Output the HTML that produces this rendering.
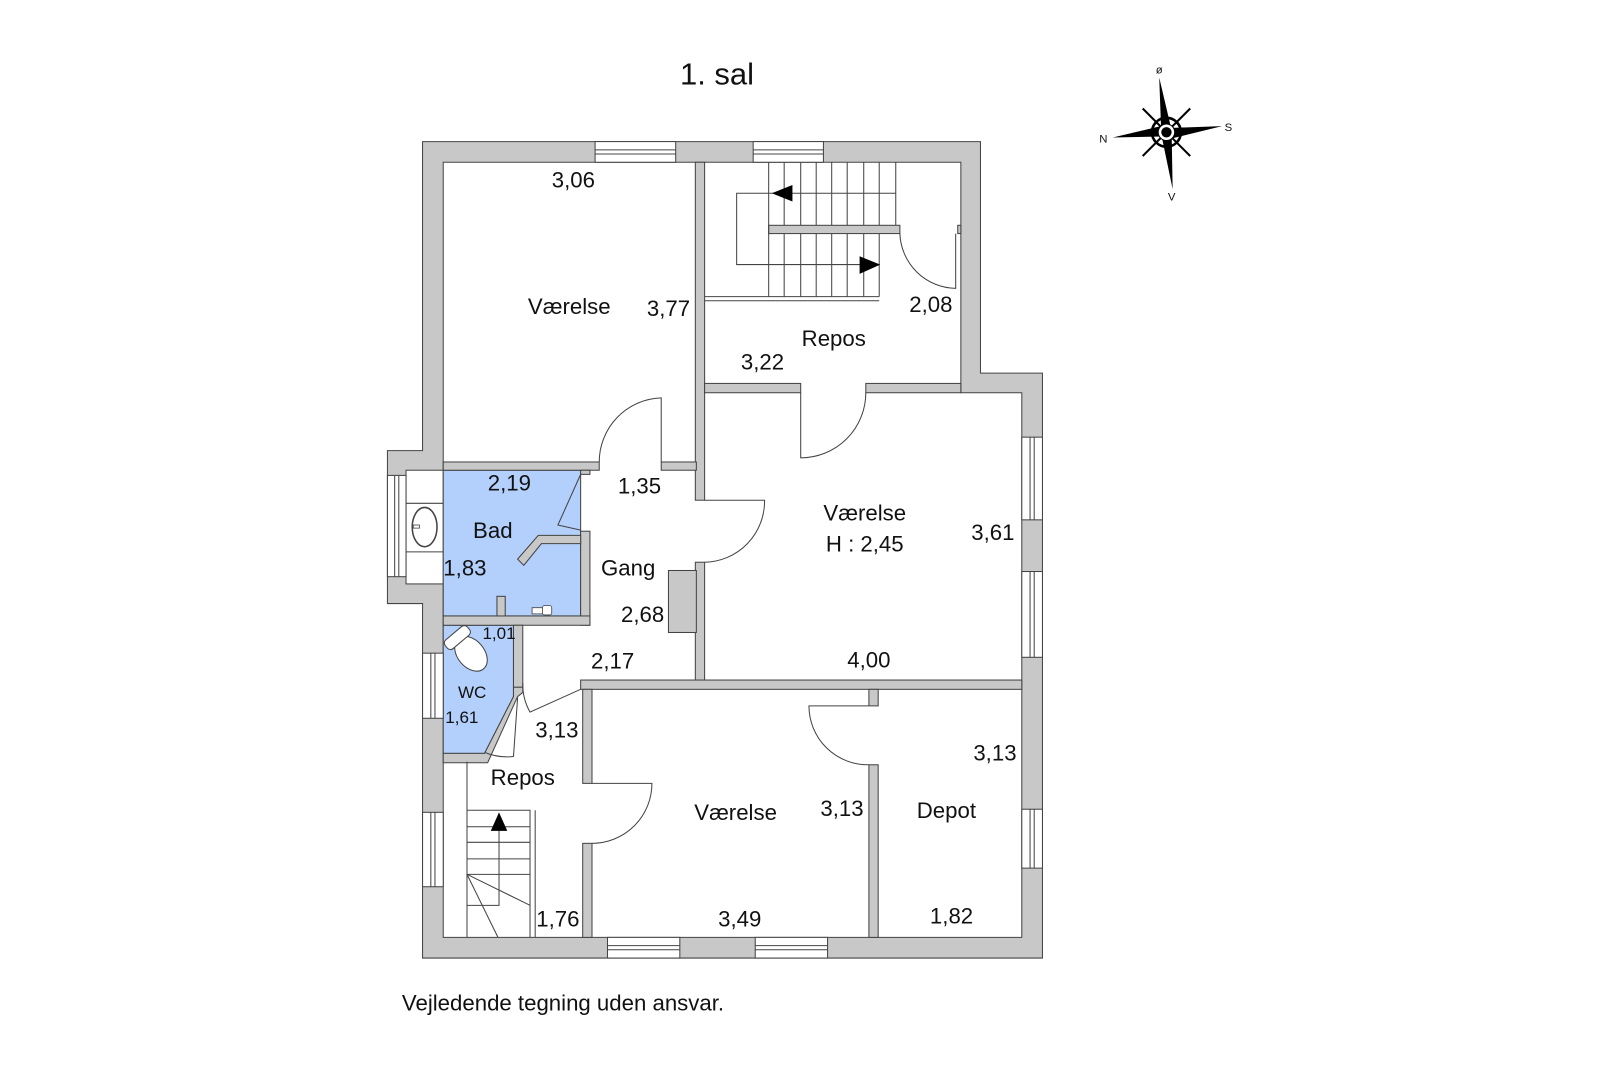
<!DOCTYPE html>
<html><head><meta charset="utf-8"><style>
html,body{margin:0;padding:0;background:#fff;}
svg{display:block;}
text{font-family:"Liberation Sans",Arial,sans-serif;fill:#111;}
</style></head><body>
<svg width="1620" height="1080" viewBox="0 0 1568 1045" preserveAspectRatio="none" xmlns="http://www.w3.org/2000/svg">
<rect width="1568" height="1045" fill="#fff"/>
<g stroke="#444" stroke-width="1">
<polygon points="409,137 949,137 949,361 1009,361 1009,927 409,927 409,584 375,584 375,436 409,436" fill="#c8c8c8"/>
<polygon points="429,157 930,157 930,380 989,380 989,907 429,907" fill="#fff"/>
<rect x="393" y="455" width="36" height="110" fill="#fff"/>
<line x1="393" y1="487" x2="429" y2="487"/><line x1="393" y1="534" x2="429" y2="534"/>
<rect x="429" y="455" width="133" height="141" fill="#b3cffb"/>
<polygon points="429,605 497,605 497,674 469,729 429,729" fill="#b3cffb"/>
</g>
<g fill="#c8c8c8" stroke="#444" stroke-width="1">
<rect x="673" y="157" width="9" height="327"/>
<rect x="673" y="544" width="9" height="114"/>
<rect x="647" y="552" width="27" height="60"/>
<rect x="429" y="447" width="151" height="8"/>
<rect x="640" y="447" width="34" height="8"/>
<rect x="562" y="455" width="9" height="4"/>
<rect x="682" y="371" width="93" height="9"/>
<rect x="838" y="371" width="92" height="9"/>
<rect x="562" y="514" width="9" height="91"/>
<rect x="429" y="596" width="142" height="9"/>
<rect x="497" y="605" width="9" height="60"/>
<rect x="562" y="658" width="427" height="9"/>
<rect x="564" y="667" width="9" height="91"/>
<rect x="564" y="816" width="9" height="91"/>
<rect x="841" y="667" width="9" height="16"/>
<rect x="841" y="740" width="9" height="167"/>
<polygon points="497,665 506,665 506,670 501,674 472,738 429,738 429,729 469,729 497,674"/>
<rect x="744" y="218" width="127" height="8"/>
<rect x="927" y="218" width="3" height="8"/>
<polygon points="501,541 521,518 562,518 562,526 524,526 507,547"/>
<rect x="481" y="577" width="8" height="19"/>
</g>
<g fill="#fff" stroke="#444" stroke-width="1">
<rect x="576" y="137" width="78" height="20"/><line x1="576" y1="145" x2="654" y2="145"/><line x1="576" y1="149" x2="654" y2="149"/>
<rect x="729" y="137" width="68" height="20"/><line x1="729" y1="145" x2="797" y2="145"/><line x1="729" y1="149" x2="797" y2="149"/>
<rect x="588" y="907" width="70" height="20"/><line x1="588" y1="915" x2="658" y2="915"/><line x1="588" y1="919" x2="658" y2="919"/>
<rect x="731" y="907" width="70" height="20"/><line x1="731" y1="915" x2="801" y2="915"/><line x1="731" y1="919" x2="801" y2="919"/>
<rect x="375" y="460" width="18" height="98"/><line x1="382" y1="460" x2="382" y2="558"/><line x1="386" y1="460" x2="386" y2="558"/>
<rect x="409" y="632" width="20" height="63"/><line x1="417" y1="632" x2="417" y2="695"/><line x1="421" y1="632" x2="421" y2="695"/>
<rect x="409" y="786" width="20" height="72"/><line x1="417" y1="786" x2="417" y2="858"/><line x1="421" y1="786" x2="421" y2="858"/>
<rect x="989" y="423" width="20" height="80"/><line x1="997" y1="423" x2="997" y2="503"/><line x1="1001" y1="423" x2="1001" y2="503"/>
<rect x="989" y="553" width="20" height="83"/><line x1="997" y1="553" x2="997" y2="636"/><line x1="1001" y1="553" x2="1001" y2="636"/>
<rect x="989" y="783" width="20" height="57"/><line x1="997" y1="783" x2="997" y2="840"/><line x1="1001" y1="783" x2="1001" y2="840"/>
</g>
<g fill="none" stroke="#444" stroke-width="1">
<path d="M640,447 L640,385 A62,62 0 0 0 580,447"/>
<path d="M775,380 L775,443 A63,63 0 0 0 838,380"/>
<path d="M682,484 L740,484 A59,59 0 0 1 682,544"/>
<path d="M573,758 L631,758 A58,58 0 0 1 573,816"/>
<path d="M841,683 L783,683 A57,57 0 0 0 841,740"/>
<path d="M871,226 A55,55 0 0 0 925,279 L925,226"/>
<path d="M562,667 L513,689 A54,54 0 0 1 506,661"/>
<path d="M501,675 L497,732 A57,57 0 0 1 469,728"/>
<path d="M562,459 L540,508 L562,513"/>
</g>
<g fill="none" stroke="#444" stroke-width="1">
<line x1="744" y1="157" x2="744" y2="287"/>
<line x1="759" y1="157" x2="759" y2="218"/><line x1="775" y1="157" x2="775" y2="218"/><line x1="790" y1="157" x2="790" y2="218"/><line x1="805" y1="157" x2="805" y2="218"/><line x1="820" y1="157" x2="820" y2="218"/><line x1="836" y1="157" x2="836" y2="218"/><line x1="851" y1="157" x2="851" y2="218"/><line x1="867" y1="157" x2="867" y2="218"/>
<line x1="759" y1="226" x2="759" y2="287"/><line x1="775" y1="226" x2="775" y2="287"/><line x1="790" y1="226" x2="790" y2="287"/><line x1="805" y1="226" x2="805" y2="287"/><line x1="820" y1="226" x2="820" y2="287"/><line x1="836" y1="226" x2="836" y2="287"/><line x1="851" y1="226" x2="851" y2="287"/>
<line x1="682" y1="287" x2="851" y2="287"/><line x1="682" y1="291" x2="851" y2="291"/>
<polyline points="867,187 713,187 713,256 840,256"/>
</g>
<polygon points="747,187 767,179 767,195" fill="#000"/>
<polygon points="852,256 832,248 832,265" fill="#000"/>
<g fill="none" stroke="#444" stroke-width="1">
<line x1="452" y1="737" x2="452" y2="907"/>
<polyline points="452,784 513,784 513,907"/><line x1="518" y1="784" x2="518" y2="907"/>
<line x1="452" y1="800" x2="513" y2="800"/><line x1="452" y1="815" x2="513" y2="815"/><line x1="452" y1="831" x2="513" y2="831"/><line x1="452" y1="846" x2="513" y2="846"/>
<line x1="452" y1="846" x2="513" y2="876"/><line x1="452" y1="846" x2="482" y2="907"/>
<polyline points="452,876 483,876 483,800"/>
</g>
<polygon points="483,786 475,804 491,804" fill="#000"/>
<ellipse cx="411" cy="510" rx="12" ry="19" fill="#fff" stroke="#444" stroke-width="1.5"/>
<rect x="400" y="508" width="6" height="3" fill="#fff" stroke="#444" stroke-width="0.8"/>
<g transform="rotate(-40 452 628)" stroke="#444" stroke-width="1" fill="#fff">
<ellipse cx="452" cy="634" rx="13" ry="19"/>
<rect x="438" y="608" width="28" height="11" rx="4"/>
</g>
<g fill="#fff" stroke="#444" stroke-width="0.8"><rect x="515" y="588" width="10" height="6"/><rect x="525" y="586" width="9" height="9" rx="2"/></g>
<g>
<circle cx="1129" cy="128" r="14" fill="none" stroke="#000" stroke-width="2.5"/>
<g stroke="#000" stroke-width="2"><line x1="1106" y1="105" x2="1152" y2="151"/><line x1="1152" y1="105" x2="1106" y2="151"/></g>
<polygon points="1122,75 1134,126 1124,129" fill="#000"/>
<polygon points="1135,183 1124,130 1134,127" fill="#000"/>
<polygon points="1077,133 1128,121 1130,132" fill="#000"/>
<polygon points="1183,122 1130,135 1128,124" fill="#000"/>
<circle cx="1129" cy="128" r="8" fill="#fff" stroke="#000" stroke-width="1"/>
<circle cx="1129" cy="128" r="5" fill="#000"/>
<text x="1122" y="71" font-size="11" text-anchor="middle">ø</text>
<text x="1068" y="138" font-size="11" text-anchor="middle">N</text>
<text x="1189" y="127" font-size="11" text-anchor="middle">S</text>
<text x="1134" y="194" font-size="11" text-anchor="middle">V</text>
</g>
<g font-size="21.5" text-anchor="middle" dominant-baseline="middle">
<text x="694" y="74" font-size="30">1. sal</text>
<text x="555" y="176">3,06</text>
<text x="551" y="298">Værelse</text>
<text x="647" y="300">3,77</text>
<text x="807" y="329">Repos</text>
<text x="738" y="352">3,22</text>
<text x="901" y="296">2,08</text>
<text x="493" y="469">2,19</text>
<text x="619" y="472">1,35</text>
<text x="477" y="515">Bad</text>
<text x="608" y="551">Gang</text>
<text x="450" y="551">1,83</text>
<text x="622" y="596">2,68</text>
<text x="837" y="498">Værelse</text>
<text x="837" y="528">H : 2,45</text>
<text x="961" y="517">3,61</text>
<text x="841" y="640">4,00</text>
<text x="593" y="641">2,17</text>
<text x="483" y="614" font-size="16.5">1,01</text>
<text x="457" y="671" font-size="16.5">WC</text>
<text x="447" y="695" font-size="16.5">1,61</text>
<text x="539" y="708">3,13</text>
<text x="506" y="754">Repos</text>
<text x="712" y="788">Værelse</text>
<text x="815" y="784">3,13</text>
<text x="916" y="786">Depot</text>
<text x="963" y="730">3,13</text>
<text x="540" y="891">1,76</text>
<text x="716" y="891">3,49</text>
<text x="921" y="888">1,82</text>
<text x="389" y="972" text-anchor="start" font-size="21.5">Vejledende tegning uden ansvar.</text>
</g>
</svg>
</body></html>
